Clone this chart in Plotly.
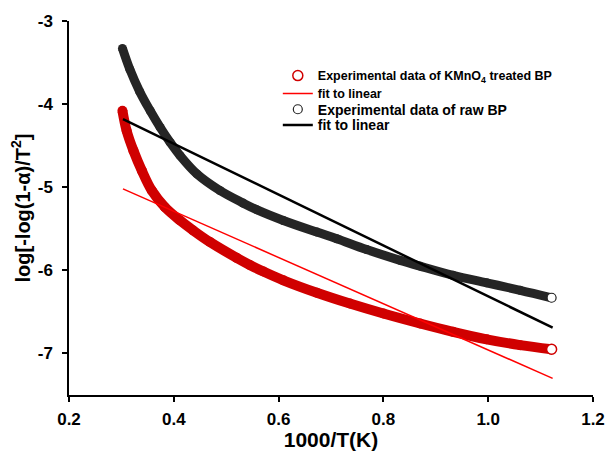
import plotly.graph_objects as go

# Experimental data: KMnO4 treated BP (red)
x_kmno4 = [0.302, 0.310, 0.323, 0.339, 0.358, 0.383, 0.412, 0.437, 0.469, 0.520, 0.545,
           0.571, 0.609, 0.673, 0.736, 0.800, 0.870, 0.933, 0.997, 1.061, 1.121]
y_kmno4 = [-4.08, -4.32, -4.56, -4.80, -5.04, -5.24, -5.40, -5.52, -5.66, -5.85, -5.935,
           -6.015, -6.12, -6.27, -6.40, -6.52, -6.64, -6.74, -6.83, -6.90, -6.95]

# Experimental data: raw BP (black)
x_raw = [0.302, 0.316, 0.335, 0.355, 0.374, 0.393, 0.412, 0.444, 0.488, 0.532, 0.558,
         0.609, 0.673, 0.711, 0.768, 0.832, 0.870, 0.933, 0.997, 1.061, 1.121]
y_raw = [-3.33, -3.58, -3.85, -4.08, -4.28, -4.46, -4.62, -4.84, -5.04, -5.19, -5.27,
         -5.40, -5.54, -5.62, -5.75, -5.88, -5.95, -6.06, -6.15, -6.24, -6.33]

# Linear fits
fit_x = [0.303, 1.123]
fit_kmno4 = [-5.02, -7.30]
fit_raw = [-4.18, -6.69]

# Tick labels (hyphen minus as in the original)
x_ticks = [0.2, 0.4, 0.6, 0.8, 1.0, 1.2]
x_ticktext = ["0.2", "0.4", "0.6", "0.8", "1.0", "1.2"]
y_ticks = [-3, -4, -5, -6, -7]
y_ticktext = ["-3", "-4", "-5", "-6", "-7"]

RED = "#d00000"
BLK = "#252525"
FONT = "Liberation Sans, Arial, sans-serif"

fig = go.Figure()

# thick bands formed by dense overlapping markers
fig.add_trace(go.Scatter(x=x_kmno4, y=y_kmno4, mode="lines+markers", showlegend=False,
                         line=dict(color=RED, width=10, shape="spline", smoothing=1),
                         marker=dict(color=RED, size=10)))
fig.add_trace(go.Scatter(x=x_raw, y=y_raw, mode="lines+markers", showlegend=False,
                         line=dict(color=BLK, width=9, shape="spline", smoothing=1),
                         marker=dict(color=BLK, size=9)))

# last open circles (also legend entries)
fig.add_trace(go.Scatter(x=x_kmno4[-1:], y=y_kmno4[-1:], mode="markers", legend="legend",
                         name="Experimental data of KMnO<sub>4</sub> treated BP",
                         marker=dict(symbol="circle", color="white", size=10,
                                     line=dict(color=RED, width=1.5))))
fig.add_trace(go.Scatter(x=fit_x, y=fit_kmno4, mode="lines", legend="legend2",
                         name="fit to linear",
                         line=dict(color="#ff0000", width=1.5)))
fig.add_trace(go.Scatter(x=x_raw[-1:], y=y_raw[-1:], mode="markers", legend="legend3",
                         name="Experimental data of raw BP",
                         marker=dict(symbol="circle", color="white", size=9,
                                     line=dict(color=BLK, width=1.2))))
fig.add_trace(go.Scatter(x=fit_x, y=fit_raw, mode="lines", legend="legend4",
                         name="fit to linear",
                         line=dict(color="black", width=2.5)))

def leg(y, size):
    return dict(x=0.3985, y=y, xanchor="left", yanchor="middle",
                bgcolor="rgba(0,0,0,0)", borderwidth=0,
                font=dict(size=size, family=FONT, weight="bold", color="black"),
                itemwidth=30)

fig.update_layout(
    width=606, height=451,
    margin=dict(l=69, r=13, t=21, b=56),
    paper_bgcolor="white", plot_bgcolor="white",
    font=dict(family=FONT, color="black"),
    legend=leg(0.853, 12.5),
    legend2=leg(0.805, 12.5),
    legend3=leg(0.763, 14),
    legend4=leg(0.721, 14),
)
fig.update_xaxes(range=[0.2, 1.2], tickvals=x_ticks, ticktext=x_ticktext,
                 automargin=False, showgrid=False, zeroline=False,
                 showline=True, linecolor="black", linewidth=1.5,
                 ticks="outside", ticklen=5, tickwidth=1.5, tickcolor="black",
                 ticklabelstandoff=3,
                 tickfont=dict(size=17, family=FONT, weight="bold"),
                 title=dict(text="1000/T(K)", standoff=18,
                            font=dict(size=21, family=FONT, weight="bold")))
fig.update_yaxes(range=[-7.5, -3], tickvals=y_ticks, ticktext=y_ticktext,
                 automargin=False, showgrid=False, zeroline=False,
                 showline=True, linecolor="black", linewidth=1.5,
                 ticks="outside", ticklen=5, tickwidth=1.5, tickcolor="black",
                 ticklabelstandoff=6,
                 tickfont=dict(size=17, family=FONT, weight="bold"),
                 title=dict(text="log[-log(1-α)/T<sup>2</sup>]", standoff=2,
                            font=dict(size=20, family=FONT, weight="bold")))

fig.write_html("out.html")
